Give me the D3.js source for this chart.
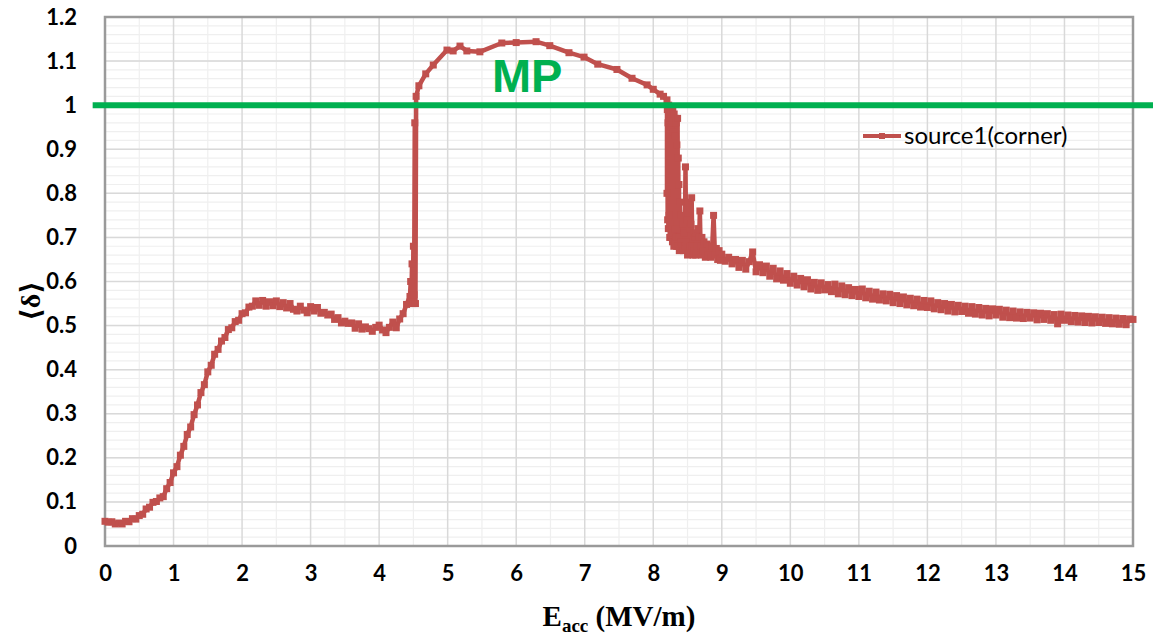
<!DOCTYPE html>
<html>
<head>
<meta charset="utf-8">
<script src="https://cdn.jsdelivr.net/npm/d3@7"></script>
<style>
  body { margin: 0; background: #fff; }
  #result { width: 1153px; height: 636px; }
</style>
</head>
<body>
<div id="result"></div>
<script>
// rise from 0 to 4.45 MV/m, sampled every 0.05
const rise_start = 0, rise_step = 0.05;
const rise_delta = [
  0.056, 0.054, 0.055, 0.050, 0.052, 0.050, 0.056, 0.055, 0.062, 0.061,
  0.069, 0.072, 0.084, 0.088, 0.099, 0.101, 0.109, 0.112, 0.130, 0.144,
  0.166, 0.180, 0.206, 0.226, 0.253, 0.270, 0.298, 0.320, 0.348, 0.366,
  0.395, 0.410, 0.435, 0.446, 0.465, 0.473, 0.491, 0.495, 0.509, 0.512,
  0.527, 0.529, 0.542, 0.544, 0.556, 0.546, 0.557, 0.544, 0.554, 0.545,
  0.556, 0.543, 0.552, 0.540, 0.550, 0.537, 0.533, 0.544, 0.535, 0.529,
  0.543, 0.533, 0.541, 0.528, 0.530, 0.524, 0.526, 0.514, 0.518, 0.506,
  0.510, 0.505, 0.506, 0.494, 0.504, 0.492, 0.497, 0.493, 0.487, 0.496,
  0.501, 0.490, 0.484, 0.496, 0.508, 0.495, 0.515, 0.527, 0.548, 0.566
];

// jump up to multipacting plateau
const jump_pts = [
  [4.46, 0.60], [4.47, 0.56], [4.48, 0.64], [4.49, 0.55], [4.50, 0.68],
  [4.51, 0.57], [4.52, 0.96], [4.53, 0.55], [4.54, 1.02]
];

// plateau arc (MP region)
const arc_pts = [
  [4.58, 1.044], [4.68, 1.071], [4.79, 1.091], [4.99, 1.125], [5.08, 1.123],
  [5.18, 1.134], [5.28, 1.123], [5.47, 1.121], [5.79, 1.141], [6.00, 1.142],
  [6.29, 1.144], [6.49, 1.135], [6.77, 1.119], [6.99, 1.109], [7.19, 1.093],
  [7.47, 1.081], [7.69, 1.061], [7.91, 1.046], [8.00, 1.036], [8.10, 1.025],
  [8.15, 1.020], [8.20, 1.012]
];

// noisy drop after the plateau
const drop_pts = [
  [8.20, 0.80], [8.205, 0.99], [8.21, 0.74], [8.215, 0.96], [8.22, 0.72],
  [8.225, 1.00], [8.23, 0.75], [8.235, 0.97], [8.24, 0.70], [8.245, 0.99],
  [8.25, 0.73], [8.255, 0.95], [8.26, 0.70], [8.265, 0.98], [8.27, 0.72],
  [8.275, 0.96], [8.28, 0.69], [8.285, 0.99], [8.29, 0.71], [8.295, 0.94],
  [8.30, 0.68], [8.305, 0.98], [8.31, 0.72], [8.315, 0.93], [8.32, 0.69],
  [8.325, 0.97], [8.33, 0.70], [8.335, 0.96], [8.34, 0.68], [8.345, 0.91],
  [8.35, 0.72], [8.355, 0.97], [8.36, 0.68], [8.365, 0.88], [8.37, 0.70],
  [8.375, 0.82], [8.38, 0.67], [8.39, 0.78], [8.40, 0.69], [8.41, 0.75],
  [8.42, 0.68], [8.43, 0.73], [8.44, 0.67], [8.45, 0.71], [8.46, 0.68],
  [8.47, 0.86], [8.48, 0.69], [8.49, 0.74], [8.50, 0.66], [8.51, 0.78],
  [8.52, 0.67], [8.53, 0.72], [8.54, 0.68], [8.55, 0.73], [8.56, 0.79],
  [8.57, 0.68], [8.58, 0.66], [8.59, 0.71], [8.60, 0.67], [8.61, 0.70],
  [8.62, 0.66], [8.63, 0.71], [8.64, 0.68], [8.65, 0.72], [8.66, 0.67],
  [8.67, 0.70], [8.68, 0.76], [8.69, 0.68], [8.70, 0.66], [8.71, 0.70],
  [8.72, 0.67], [8.74, 0.69], [8.76, 0.655], [8.78, 0.685], [8.80, 0.66],
  [8.82, 0.68], [8.84, 0.655], [8.86, 0.68], [8.88, 0.75], [8.90, 0.66],
  [8.92, 0.675], [8.94, 0.65], [8.96, 0.67], [8.98, 0.648]
];

// tail from 9 to 15 MV/m, sampled every 0.05
const tail_start = 9, tail_step = 0.05;
const tail_delta = [
  0.662, 0.646, 0.655, 0.640, 0.650, 0.632, 0.648, 0.628, 0.645, 0.667,
  0.622, 0.638, 0.620, 0.635, 0.612, 0.630, 0.606, 0.624, 0.603, 0.618,
  0.596, 0.612, 0.592, 0.607, 0.588, 0.604, 0.583, 0.598, 0.580, 0.597,
  0.581, 0.593, 0.577, 0.594, 0.572, 0.590, 0.570, 0.586, 0.568, 0.582,
  0.566, 0.583, 0.563, 0.578, 0.560, 0.576, 0.558, 0.572, 0.556, 0.571,
  0.552, 0.568, 0.550, 0.565, 0.547, 0.562, 0.545, 0.560, 0.542, 0.557,
  0.541, 0.556, 0.538, 0.552, 0.536, 0.550, 0.533, 0.548, 0.531, 0.546,
  0.532, 0.544, 0.528, 0.543, 0.526, 0.541, 0.524, 0.539, 0.522, 0.538,
  0.524, 0.537, 0.519, 0.535, 0.518, 0.533, 0.517, 0.531, 0.516, 0.530,
  0.517, 0.529, 0.513, 0.528, 0.514, 0.527, 0.512, 0.525, 0.504, 0.526,
  0.512, 0.524, 0.509, 0.523, 0.508, 0.522, 0.507, 0.521, 0.506, 0.520,
  0.507, 0.519, 0.505, 0.518, 0.504, 0.517, 0.503, 0.516, 0.502, 0.515,
  0.514
];

const x_ticks = d3.range(0, 16, 1);
const y_ticks = [0, 0.1, 0.2, 0.3, 0.4, 0.5, 0.6, 0.7, 0.8, 0.9, 1, 1.1, 1.2];
const series_name = 'source1(corner)';
const mp_level = 1;

const margin = { top: 17, right: 20, bottom: 90, left: 105 };
const width = 1153, height = 636;
const red = '#c0504d', green = '#00b050';

var data = [];
rise_delta.forEach(function(v, i) { data.push([rise_start + i * rise_step, v]); });
jump_pts.forEach(function(p) { data.push(p); });
arc_pts.forEach(function(p) { data.push(p); });
drop_pts.forEach(function(p) { data.push(p); });
tail_delta.forEach(function(v, i) { data.push([tail_start + i * tail_step, v]); });

var x = d3.scaleLinear().domain([0, 15]).range([margin.left, width - margin.right]);
var y = d3.scaleLinear().domain([0, 1.2]).range([height - margin.bottom, margin.top]);

var svg = d3.select('#result').append('svg')
  .attr('width', width)
  .attr('height', height);

// minor grid
var grid = svg.append('g');
grid.selectAll('.minor-x').data(d3.range(0.5, 15, 1)).enter().append('line')
  .attr('x1', d => x(d)).attr('x2', d => x(d))
  .attr('y1', y(0)).attr('y2', y(1.2))
  .attr('stroke', '#efefef').attr('stroke-width', 1.2);
grid.selectAll('.minor-y').data(d3.range(0.02, 1.2, 0.02)).enter().append('line')
  .attr('x1', x(0)).attr('x2', x(15))
  .attr('y1', d => y(d)).attr('y2', d => y(d))
  .attr('stroke', '#efefef').attr('stroke-width', 1.2);
grid.selectAll('.major-x').data(x_ticks).enter().append('line')
  .attr('x1', d => x(d)).attr('x2', d => x(d))
  .attr('y1', y(0)).attr('y2', y(1.2))
  .attr('stroke', '#d9d9d9').attr('stroke-width', 1.5);
grid.selectAll('.major-y').data(y_ticks).enter().append('line')
  .attr('x1', x(0)).attr('x2', x(15))
  .attr('y1', d => y(d)).attr('y2', d => y(d))
  .attr('stroke', '#d9d9d9').attr('stroke-width', 1.5);

// plot frame
svg.append('rect')
  .attr('x', x(0)).attr('y', y(1.2))
  .attr('width', x(15) - x(0)).attr('height', y(0) - y(1.2))
  .attr('fill', 'none').attr('stroke', '#9a9a9a').attr('stroke-width', 2.5);

// axes (labels only, Excel style)
var x_axis = svg.append('g')
  .attr('transform', `translate(0,${y(0) + 16})`)
  .call(d3.axisBottom(x).tickValues(x_ticks).tickSize(0).tickFormat(d3.format('d')));
var y_axis = svg.append('g')
  .attr('transform', `translate(${x(0) - 25},0)`)
  .call(d3.axisLeft(y).tickValues(y_ticks).tickSize(0).tickFormat(d => d3.format('')(d)));
[x_axis, y_axis].forEach(function(a) {
  a.select('.domain').remove();
  a.selectAll('text')
    .attr('font-family', 'Lato, "Open Sans", sans-serif')
    .attr('font-weight', 'bold')
    .attr('font-size', 22)
    .attr('fill', '#000');
});

// series
var line = d3.line().x(d => x(d[0])).y(d => y(d[1]));
svg.append('path')
  .datum(data)
  .attr('d', line)
  .attr('fill', 'none')
  .attr('stroke', red)
  .attr('stroke-width', 4.5)
  .attr('stroke-linejoin', 'round');
svg.append('g').selectAll('rect').data(data).enter().append('rect')
  .attr('x', d => x(d[0]) - 3.5)
  .attr('y', d => y(d[1]) - 3.5)
  .attr('width', 7).attr('height', 7)
  .attr('fill', red);

// MP threshold line
svg.append('line')
  .attr('x1', x(-0.18)).attr('x2', width)
  .attr('y1', y(mp_level)).attr('y2', y(mp_level))
  .attr('stroke', green).attr('stroke-width', 6);

svg.append('text')
  .attr('x', x(6.16)).attr('y', y(1.03))
  .attr('text-anchor', 'middle')
  .attr('font-family', '"Liberation Sans", Arial, sans-serif')
  .attr('font-weight', 'bold')
  .attr('font-size', 47)
  .attr('fill', green)
  .text('MP');

// legend
var legend = svg.append('g').attr('transform', 'translate(863,136)');
legend.append('line').attr('x1', 0).attr('x2', 38).attr('y1', 0).attr('y2', 0)
  .attr('stroke', red).attr('stroke-width', 4);
legend.append('rect').attr('x', 16).attr('y', -3).attr('width', 6).attr('height', 6).attr('fill', red);
legend.append('text').attr('x', 41).attr('y', 8)
  .attr('font-family', 'Lato, "Open Sans", sans-serif')
  .attr('font-size', 24)
  .attr('fill', '#000')
  .text(series_name);

// axis titles
var x_title = svg.append('text')
  .attr('x', 619).attr('y', 626)
  .attr('text-anchor', 'middle')
  .attr('font-family', '"Liberation Serif", "Times New Roman", serif')
  .attr('font-weight', 'bold')
  .attr('font-size', 29)
  .attr('fill', '#000');
x_title.append('tspan').text('E');
x_title.append('tspan').attr('font-size', 19).attr('dy', 6).text('acc');
x_title.append('tspan').attr('dy', -6).text(' (MV/m)');

svg.append('text')
  .attr('transform', 'translate(40,301)rotate(-90)')
  .attr('text-anchor', 'middle')
  .attr('font-family', '"Liberation Serif", "DejaVu Serif", serif')
  .attr('font-weight', 'bold')
  .attr('font-size', 28)
  .attr('fill', '#000')
  .text('\u27E8\u03B4\u27E9');
</script>
</body>
</html>
